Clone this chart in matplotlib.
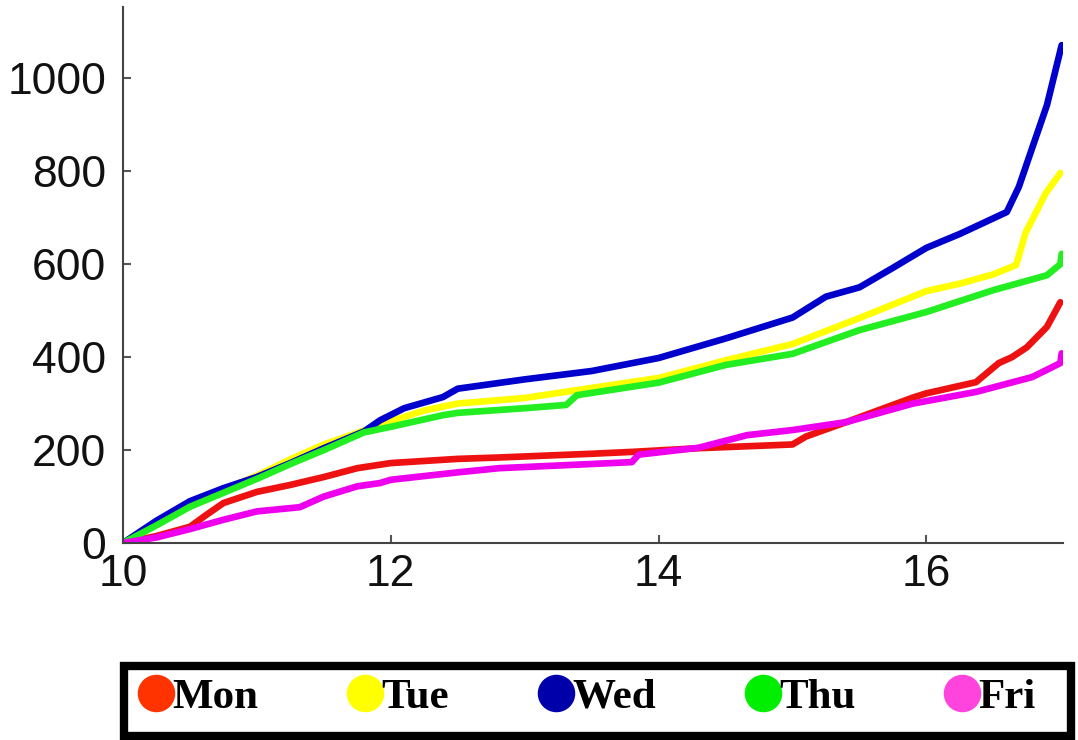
import matplotlib
matplotlib.use('Agg')
import matplotlib.pyplot as plt
from matplotlib.lines import Line2D
from matplotlib.patches import Rectangle

# hours of the day and cumulative counts
mon_t = [10, 10.25, 10.5, 10.62, 10.75, 11, 11.25, 11.5, 11.75, 12, 12.5, 12.81,
         13.5, 13.8, 14.3, 15, 15.1, 15.4, 15.9, 16, 16.37, 16.54, 16.64, 16.75, 16.9, 17]
mon = [0, 15, 35, 60, 86, 110, 125, 142, 161, 172, 181, 184,
       192, 196, 204, 212, 229, 260, 313, 322, 346, 387, 400, 421, 465, 518]

tue_t = [10, 10.25, 10.5, 10.75, 11, 11.25, 11.5, 11.8, 12, 12.25, 12.5, 13, 13.3,
         14, 14.5, 15, 15.5, 16, 16.25, 16.5, 16.67, 16.74, 16.89, 17]
tue = [0, 40, 82, 115, 145, 180, 212, 242, 262, 285, 300, 312, 325,
       355, 393, 428, 484, 542, 558, 578, 598, 667, 752, 796]

wed_t = [10, 10.25, 10.5, 10.75, 11, 11.25, 11.5, 11.8, 11.92, 12.1, 12.39, 12.5, 13,
         13.5, 14, 14.5, 15, 15.25, 15.5, 15.75, 16, 16.25, 16.6, 16.69, 16.79, 16.9, 17.01]
wed = [0, 48, 90, 118, 142, 172, 204, 240, 264, 290, 314, 332, 352,
       370, 398, 440, 485, 530, 550, 592, 635, 665, 712, 766, 850, 942, 1071]

thu_t = [10, 10.25, 10.5, 10.75, 11, 11.25, 11.5, 11.8, 12, 12.39, 12.5, 13, 13.31,
         13.39, 14, 14.5, 15, 15.5, 16, 16.5, 16.9, 17, 17.01]
thu = [0, 38, 78, 108, 138, 170, 200, 238, 250, 275, 280, 290, 297,
       318, 345, 383, 407, 458, 497, 544, 576, 600, 622]

fri_t = [10, 10.25, 10.5, 10.75, 11, 11.32, 11.5, 11.75, 11.92, 12, 12.5, 12.81,
         13.5, 13.8, 13.85, 14.3, 14.66, 15, 15.4, 15.9, 16.37, 16.79, 17, 17.01]
fri = [0, 12, 30, 50, 68, 77, 100, 122, 129, 136, 152, 161,
       170, 174, 190, 205, 232, 243, 260, 300, 325, 357, 387, 408]

days = ['Mon', 'Tue', 'Wed', 'Thu', 'Fri']
line_colors = ['#ee1111', '#ffff00', '#0000cc', '#22ee22', '#ee00ee']
marker_colors = ['#ff3300', '#ffff00', '#0000aa', '#00ee00', '#ff44dd']
series = [(mon_t, mon), (tue_t, tue), (wed_t, wed), (thu_t, thu), (fri_t, fri)]

fig = plt.figure(figsize=(10.78, 7.4), dpi=100)
ax = fig.add_axes([0.1141, 0.2662, 0.872, 0.7243])

for (t, v), c in zip(series, line_colors):
    ax.plot(t, v, color=c, lw=4.8, solid_joinstyle='round', solid_capstyle='round')

ax.set_xlim(10, 17.02)
ax.set_ylim(0, 1153)
ax.set_xticks([10, 12, 14, 16])
ax.set_yticks([0, 200, 400, 600, 800, 1000])

for s in ['top', 'right']:
    ax.spines[s].set_visible(False)
for s in ['left', 'bottom']:
    ax.spines[s].set_color('#444444')
    ax.spines[s].set_linewidth(1.5)

ax.tick_params(direction='in', length=6, width=1.5, color='#555555',
               labelsize=32, labelcolor='#111111')
ax.tick_params(axis='y', pad=12)
ax.tick_params(axis='x', pad=8)
for lab in ax.get_xticklabels() + ax.get_yticklabels():
    lab.set_fontfamily('Liberation Sans')

# thick black box round the legend
box = Rectangle((124 / 1078, 1 - 736 / 740), (1071 - 124) / 1078, 70 / 740,
                transform=fig.transFigure, facecolor='white', edgecolor='black',
                linewidth=6, zorder=0)
fig.patches.append(box)

handles = [Line2D([], [], ls='none', marker='o', markersize=26,
                  markerfacecolor=mc, markeredgecolor=mc) for mc in marker_colors]
leg = fig.legend(handles, days, loc='center left', ncol=5,
                 bbox_to_anchor=(0.130, 1 - 697 / 740),
                 borderaxespad=0, frameon=False,
                 handlelength=0.75, handletextpad=0.0, borderpad=0,
                 columnspacing=2.11,
                 prop={'family': 'Liberation Serif', 'weight': 'bold', 'size': 31})

fig.savefig('out.png', dpi=100)
